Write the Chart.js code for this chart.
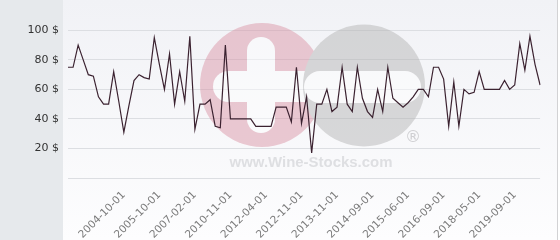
<!DOCTYPE html>
<html><head><meta charset="utf-8">
<script src="https://cdn.jsdelivr.net/npm/chart.js@4"></script>
<style>html,body{margin:0;padding:0;background:#fff}#wrap{width:560px;height:240px}</style>
</head><body><div id="wrap"><canvas id="c" width="560" height="240"></canvas></div>
<script>
const categories = [
 '','','','','','','','','','','','2004-10-01','','','','','','','2005-10-01','','',
 '','','','','2007-02-01','','','','','','','2010-11-01','','','','','','','2012-04-01',
 '','','','','','','2012-11-01','','','','','','','2013-11-01','','','','','','','2014-09-01',
 '','','','','','','2015-06-01','','','','','','','2016-09-01','','','','','','','2018-05-01',
 '','','','','','','2019-09-01','','','','',''
];
const prices = [
 75,75,90,80,70,69,55,50,50,72,52,31,49,66,70,68,67,95,77,60,
 84,50,72,52,96,33,50,50,53,35,34,90,40,40,40,40,40,35,35,35,
 35,48,48,48,38,75,37,55,17,50,50,60,45,48,75,50,45,75,54,45,
 41,60,45,75,54,51,48,51,55,60,60,55,75,75,67,35,65,35,60,57,
 58,72,60,60,60,60,66,60,63,91,73,96,77,63
];
const yTickValues = [0,20,40,60,80,100];
const currency = ' $';
const watermarkText = 'www.Wine-Stocks.com';

const backdrop = {
  id:'backdrop',
  beforeDraw(chart){
    const ctx = chart.ctx;
    ctx.save();
    ctx.fillStyle = '#ffffff';
    ctx.fillRect(0,0,560,240);
    ctx.fillStyle = '#e6e9ec';
    ctx.fillRect(0,0,63,240);
    const g = ctx.createLinearGradient(0,0,0,240);
    g.addColorStop(0,'#f1f2f6');
    g.addColorStop(1,'#fdfdfe');
    ctx.fillStyle = g;
    ctx.fillRect(63,0,494,240);
    ctx.fillStyle = '#d2d2d4';
    ctx.fillRect(557,0,1,240);
    ctx.restore();
  }
};

const watermark = {
  id:'watermark',
  beforeDatasetsDraw(chart){
    const ctx = chart.ctx;
    const off = document.createElement('canvas');
    off.width = 560; off.height = 240;
    const o = off.getContext('2d');
    function pill(x1,y1,x2,y2){
      const r = Math.min(x2-x1,y2-y1)/2;
      o.beginPath();
      o.roundRect(x1,y1,x2-x1,y2-y1,r);
      o.fill();
    }
    o.fillStyle = '#d98ea0';
    o.beginPath(); o.arc(262,85,62,0,Math.PI*2); o.fill();
    o.fillStyle = '#ffffff';
    pill(247,37,275,133);
    pill(213,71,320,102);
    o.fillStyle = '#b0b0b0';
    o.beginPath(); o.arc(364,85.5,61,0,Math.PI*2); o.fill();
    o.fillStyle = '#ffffff';
    pill(304,71,421,103);
    ctx.save();
    ctx.globalAlpha = 0.45;
    ctx.drawImage(off,0,0);
    ctx.globalAlpha = 1;
    ctx.fillStyle = '#cfcfd2';
    ctx.font = '16px "DejaVu Sans"';
    ctx.textAlign = 'center';
    ctx.textBaseline = 'middle';
    ctx.fillText('\u00AE',413,138);
    ctx.fillStyle = '#dedfe2';
    let size = 15;
    ctx.font = 'bold '+size+'px "Liberation Sans"';
    const w = ctx.measureText(watermarkText).width;
    size = size*163/w;
    ctx.font = 'bold '+size.toFixed(2)+'px "Liberation Sans"';
    ctx.textBaseline = 'alphabetic';
    ctx.fillText(watermarkText,311,167);
    ctx.restore();
  }
};

new Chart(document.getElementById('c'),{
  type:'line',
  data:{labels:categories,datasets:[{
    data:prices,
    borderColor:'#3b2230',
    borderWidth:1.2,
    pointRadius:0,
    tension:0,
    fill:false
  }]},
  options:{
    responsive:false,
    animation:false,
    devicePixelRatio:1,
    layout:{padding:{top:14,right:5,left:0,bottom:0}},
    plugins:{legend:{display:false},tooltip:{enabled:false}},
    scales:{
      x:{
        grid:{display:false,drawTicks:false},
        border:{display:false},
        ticks:{autoSkip:false,maxRotation:45,minRotation:45,padding:11,
          color:'#7a7a7a',font:{family:'"DejaVu Sans"',size:10.5}},
        afterFit(s){s.height = 62;}
      },
      y:{
        min:0,max:110,
        afterBuildTicks(s){s.ticks = yTickValues.map(v=>({value:v}));},
        grid:{color:'#dcdee2',lineWidth:1,drawTicks:false},
        border:{display:false},
        ticks:{padding:9,color:'#333333',font:{family:'"DejaVu Sans"',size:11},
          callback:v=> v===0 ? '' : v+currency},
        afterFit(s){s.width = 68;}
      }
    }
  },
  plugins:[backdrop,watermark]
});
</script>
</body></html>
